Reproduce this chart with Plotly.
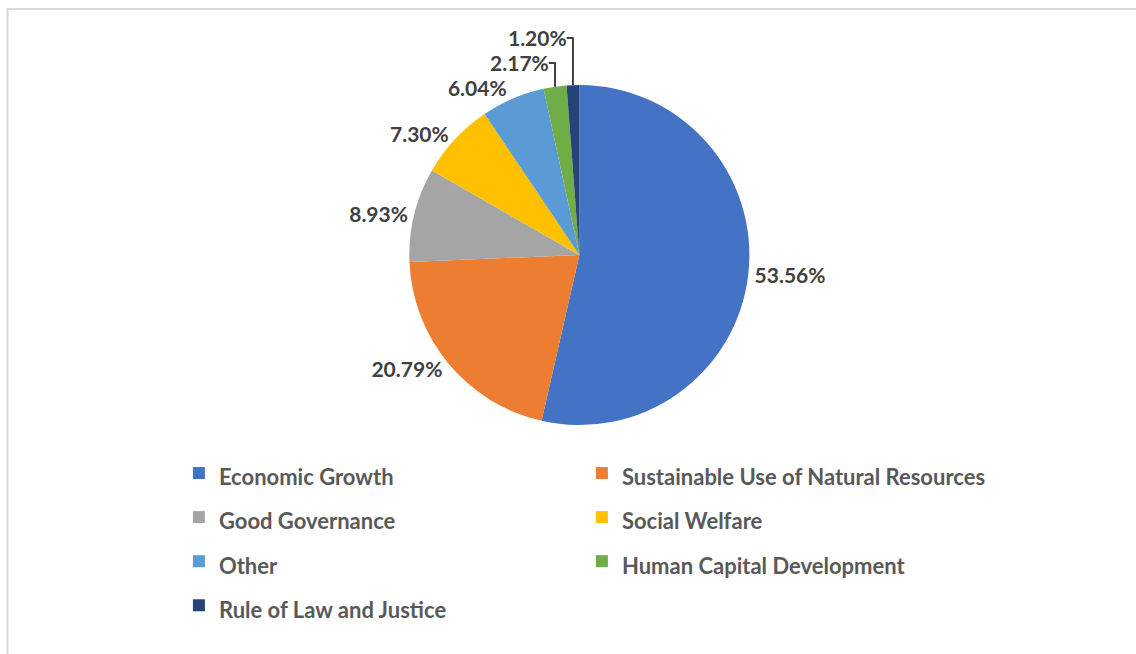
import plotly.graph_objects as go

categories = [
    "Economic Growth",
    "Sustainable Use of Natural Resources",
    "Good Governance",
    "Social Welfare",
    "Other",
    "Human Capital Development",
    "Rule of Law and Justice",
]
shares = [53.56, 20.79, 8.93, 7.30, 6.04, 2.17, 1.20]
colors = ["#4472C4", "#ED7D31", "#A5A5A5", "#FFC000", "#5B9BD5", "#70AD47", "#264478"]

# legend names shown at 22px inside a taller legend row (row spacing like the original)
legend_names = [f"<span style='font-size:22px'>{c}</span>" for c in categories]

fig = go.Figure(
    go.Pie(
        labels=legend_names,
        values=shares,
        sort=False,
        direction="clockwise",
        rotation=0,
        marker=dict(colors=colors, line=dict(color="white", width=0)),
        texttemplate="%{value:.2f}%",
        textposition="outside",
        outsidetextfont=dict(family="Lato", size=21, color="#404040", weight="bold"),
        textfont=dict(family="Lato", size=21, color="#404040", weight="bold"),
        domain=dict(x=[0.355, 0.665], y=[0.35, 0.87]),
        showlegend=True,
        hovertemplate="%{customdata}: %{value:.2f}%<extra></extra>",
        customdata=categories,
    )
)

fig.update_layout(
    width=1136,
    height=654,
    margin=dict(l=0, r=0, t=0, b=0),
    paper_bgcolor="white",
    plot_bgcolor="white",
    font=dict(family="Lato", color="#595959"),
    legend=dict(
        orientation="h",
        x=0.1575,
        xanchor="left",
        y=1 - 446 / 654,
        yanchor="top",
        entrywidth=358,
        font=dict(family="Lato", size=31.6, color="#595959", weight="bold"),
        itemwidth=30,
        traceorder="normal",
    ),
    shapes=[
        dict(
            type="rect", xref="paper", yref="paper",
            x0=0.0066, x1=1.2, y0=-0.05, y1=1 - 9 / 654,
            line=dict(color="#D9D9D9", width=2), fillcolor="rgba(0,0,0,0)",
            layer="below",
        )
    ],
)

fig.write_html("out.html")
